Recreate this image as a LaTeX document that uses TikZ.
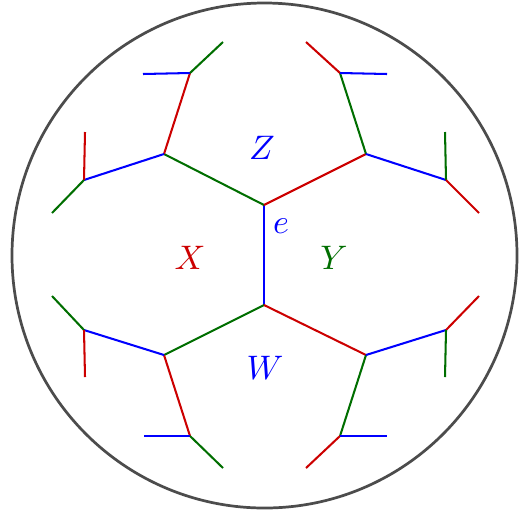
\documentclass[tikz,border=0pt]{standalone}
\usepackage{amsmath,amssymb}
\usepackage{xcolor}
\usepackage{tikz}
\definecolor{rd}{RGB}{204,0,0}
\definecolor{gn}{RGB}{0,110,0}
\definecolor{bl}{RGB}{0,0,255}
\tikzset{redge/.style={draw=rd, line width=0.6pt},
gedge/.style={draw=gn, line width=0.6pt},
bedge/.style={draw=bl, line width=0.6pt}}

\begin{document}
\begin{tikzpicture}[x=0.2941pt,y=-0.2941pt]
\useasboundingbox (0,0) rectangle (521,513);
\draw[black!70, line width=0.8pt] (264.5,255.5) circle (252.5);

% central edge
\coordinate (a) at (264,205);
\coordinate (b) at (264,305);
\coordinate (ul) at (164,154);
\coordinate (ur) at (366,154);
\coordinate (ll) at (164,355);
\coordinate (lr) at (366,355);
\path[bedge] (a) edge (b);
\path[gedge] (a) edge (ul);
\path[redge] (a) edge (ur);
\path[gedge] (b) edge (ll);
\path[redge] (b) edge (lr);

% upper left
\coordinate (ul1) at (190,73);
\coordinate (ul2) at (84,180);
\path[redge] (ul) edge (ul1);
\path[bedge] (ul) edge (ul2);
\coordinate (ul1a) at (143,74);
\coordinate (ul1b) at (223,42);
\path[bedge] (ul1) edge (ul1a);
\path[gedge] (ul1) edge (ul1b);
\coordinate (ul2a) at (85,132);
\coordinate (ul2b) at (52,213);
\path[redge] (ul2) edge (ul2a);
\path[gedge] (ul2) edge (ul2b);

% upper right
\coordinate (ur1) at (340,73);
\coordinate (ur2) at (446,180);
\path[gedge] (ur) edge (ur1);
\path[bedge] (ur) edge (ur2);
\coordinate (ur1a) at (306,42);
\coordinate (ur1b) at (387,74);
\path[redge] (ur1) edge (ur1a);
\path[bedge] (ur1) edge (ur1b);
\coordinate (ur2a) at (445,132);
\coordinate (ur2b) at (479,213);
\path[gedge] (ur2) edge (ur2a);
\path[redge] (ur2) edge (ur2b);

% lower left
\coordinate (ll1) at (190,436);
\coordinate (ll2) at (84,330);
\path[redge] (ll) edge (ll1);
\path[bedge] (ll) edge (ll2);
\coordinate (ll1a) at (144,436);
\coordinate (ll1b) at (223,468);
\path[bedge] (ll1) edge (ll1a);
\path[gedge] (ll1) edge (ll1b);
\coordinate (ll2a) at (52,296);
\coordinate (ll2b) at (85,377);
\path[gedge] (ll2) edge (ll2a);
\path[redge] (ll2) edge (ll2b);

% lower right
\coordinate (lr1) at (340,436);
\coordinate (lr2) at (446,330);
\path[gedge] (lr) edge (lr1);
\path[bedge] (lr) edge (lr2);
\coordinate (lr1a) at (306,468);
\coordinate (lr1b) at (387,436);
\path[redge] (lr1) edge (lr1a);
\path[bedge] (lr1) edge (lr1b);
\coordinate (lr2a) at (479,296);
\coordinate (lr2b) at (445,377);
\path[redge] (lr2) edge (lr2a);
\path[gedge] (lr2) edge (lr2b);

\node at (281,226) (e) [text=bl] {$e$};
\node at (262,148) (Z) [text=bl] {$Z$};
\node at (190,258) (X) [text=rd] {$X$};
\node at (334,258) (Y) [text=gn] {$Y$};
\node at (265,368) (W) [text=bl] {$W$};
\end{tikzpicture}
\end{document}
